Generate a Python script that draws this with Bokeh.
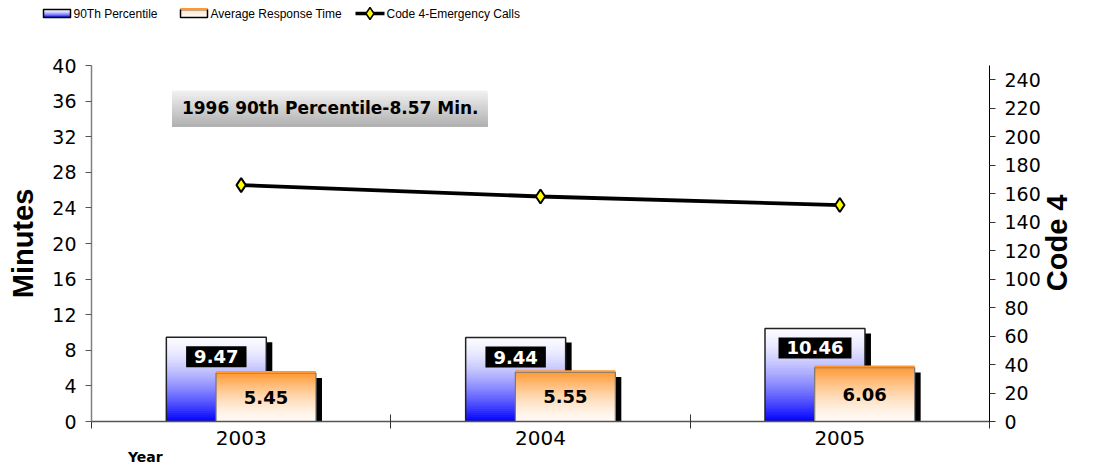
import math
import numpy as np
from bokeh.plotting import figure
from bokeh.layouts import column
from bokeh.models import (Range1d, LinearAxis, FixedTicker, Label, CustomJSTickFormatter)
from bokeh.core.properties import value
from bokeh.embed import file_html
from bokeh.resources import INLINE

# ---------------- data ----------------
years = ["2003", "2004", "2005"]
pct90 = [9.47, 9.44, 10.46]
avg_resp = [5.45, 5.55, 6.06]
code4 = [166, 158, 152]
left_ticks = list(range(0, 41, 4))
right_ticks = list(range(0, 241, 20))
series_names = ["90Th Percentile", "Average Response Time", "Code 4-Emergency Calls"]
note_text = "1996 90th Percentile-8.57 Min."
x_title = "Year"
left_title = "Minutes"
right_title = "Code 4"

# ---------------- style ----------------
W = 1093
LEG_H = 24
MAIN_H = 467 - LEG_H
N_SLICES = 40
BAR_W = 0.334
BLUE_SHIFT = -0.083
ORANGE_SHIFT = 0.083
SH_DX, SH_DY = 0.02, 0.56
LABEL_DROP = 2.2
NUM_FONT = "DejaVu Sans"
LEG_FONT = "Liberation Sans"
R_MAX = 250
R_TITLE_SHIFT = 33.5   # rotated title starts at its tick; shift so it is centred


def hexc(r, g, b):
    return "#%02x%02x%02x" % (int(round(r)), int(round(g)), int(round(b)))


def blue_col(t):  # t: 0 at top, 1 at bottom
    w = t ** 1.6
    return hexc(250 * (1 - w), 250 * (1 - w), 255)


def orange_col(t):
    s = (1 - t) ** 1.5
    return hexc(255, 250 - s * 97, 245 - s * 194)


def gray_col(t):
    g = 242 - 66 * t
    return hexc(g, g, g)


# ================= legend strip =================
lg = figure(width=W, height=LEG_H, output_backend="svg", toolbar_location=None,
            x_range=Range1d(0, W), y_range=Range1d(LEG_H, 0),
            x_axis_type=None, y_axis_type=None, min_border=0)
lg.frame_align = False
lg.outline_line_color = None
LEG_X = [43, 180, 355]
LEG_SW = 27
LEG_Y = 13
SW_T, SW_B = 9, 17
ns = 8
for k in range(ns):
    t = k / ns
    yk = SW_T + (SW_B - SW_T) * t
    lg.quad(left=[LEG_X[0]], right=[LEG_X[0] + LEG_SW], top=[yk], bottom=[SW_B],
            fill_color=blue_col((k + 0.5) / ns), line_color=None)
    lg.quad(left=[LEG_X[1]], right=[LEG_X[1] + LEG_SW], top=[yk], bottom=[SW_B],
            fill_color=orange_col(0.55 + 0.45 * (k + 0.5) / ns), line_color=None)
lg.quad(left=[LEG_X[0]], right=[LEG_X[0] + LEG_SW], top=[SW_T], bottom=[SW_B],
        fill_color=None, line_color="black", line_width=1.5)
lg.quad(left=[LEG_X[1]], right=[LEG_X[1] + LEG_SW], top=[SW_T], bottom=[SW_B],
        fill_color=None, line_color="black", line_width=1.5)
lg.segment(x0=[LEG_X[1]], x1=[LEG_X[1] + LEG_SW], y0=[SW_T - 0.5], y1=[SW_T - 0.5],
           line_color="#ff9933", line_width=2)
lg.segment(x0=[LEG_X[2]], x1=[LEG_X[2] + LEG_SW + 2], y0=[LEG_Y], y1=[LEG_Y],
           line_color="black", line_width=3.5)
lg.scatter(x=[LEG_X[2] + LEG_SW / 2 + 1], y=[LEG_Y], marker="diamond", size=12,
           fill_color="#ffff00", line_color="black", line_width=1.5)
lg.text(x=[LEG_X[0] + LEG_SW + 3, LEG_X[1] + LEG_SW + 3, LEG_X[2] + LEG_SW + 4],
        y=[LEG_Y] * 3, text=series_names, text_font=value(LEG_FONT), text_font_size="12px",
        text_baseline="middle", text_align="left", text_color="black")

# ================= main chart =================
p = figure(width=W, height=MAIN_H, output_backend="svg", toolbar_location=None,
           x_range=Range1d(0, 3), y_range=Range1d(0, 40),
           min_border_left=91, min_border_right=104, min_border_top=41, min_border_bottom=46)
p.frame_align = False
p.outline_line_color = None
p.xgrid.visible = False
p.ygrid.visible = False
p.extra_y_ranges = {"code4": Range1d(0, R_MAX)}

centers = np.arange(len(years)) + 0.5


def gradient_bars(cx, vals, shift, colfn):
    # each slice runs from its own top down to zero; drawn top-first so no seams
    L, R, B, T, C = [], [], [], [], []
    for k in range(N_SLICES):
        t0 = k / N_SLICES
        for c, v in zip(cx, vals):
            L.append(c + shift - BAR_W / 2)
            R.append(c + shift + BAR_W / 2)
            T.append(v * (1 - t0))
            B.append(0)
            C.append(colfn((k + 0.5) / N_SLICES))
    p.quad(left=L, right=R, top=T, bottom=B, fill_color=C, line_color=None)


# blue bars: shadow, gradient, outline
p.quad(left=centers + BLUE_SHIFT - BAR_W / 2 + SH_DX, right=centers + BLUE_SHIFT + BAR_W / 2 + SH_DX,
       top=np.array(pct90) - SH_DY, bottom=-5, fill_color="black", line_color=None)
gradient_bars(centers, pct90, BLUE_SHIFT, blue_col)
p.quad(left=centers + BLUE_SHIFT - BAR_W / 2, right=centers + BLUE_SHIFT + BAR_W / 2,
       top=pct90, bottom=0, fill_color=None, line_color="#222222", line_width=1.5)

# orange bars
p.quad(left=centers + ORANGE_SHIFT - BAR_W / 2 + SH_DX, right=centers + ORANGE_SHIFT + BAR_W / 2 + SH_DX,
       top=np.array(avg_resp) - SH_DY, bottom=-5, fill_color="black", line_color=None)
gradient_bars(centers, avg_resp, ORANGE_SHIFT, orange_col)
p.quad(left=centers + ORANGE_SHIFT - BAR_W / 2, right=centers + ORANGE_SHIFT + BAR_W / 2,
       top=avg_resp, bottom=0, fill_color=None, line_color="#777777", line_width=1.2)
p.quad(left=centers + ORANGE_SHIFT - BAR_W / 2, right=centers + ORANGE_SHIFT + BAR_W / 2,
       top=np.array(avg_resp) + 0.22, bottom=avg_resp, fill_color="#ff9933", line_color=None)

# value labels
blue_txt = [f"{v:.2f}" for v in pct90]
box_w = [18 * (0.696 * sum(ch.isdigit() for ch in s) + 0.38) + 16 for s in blue_txt]
p.rect(x=centers + BLUE_SHIFT, y=np.array(pct90) - LABEL_DROP, width=box_w, height=21,
       width_units="screen", height_units="screen", fill_color="black", line_color=None)
p.text(x=centers + BLUE_SHIFT, y=np.array(pct90) - LABEL_DROP, text=blue_txt,
       text_color="white", text_font=value(NUM_FONT), text_font_style="bold",
       text_font_size="18px", text_align="center", text_baseline="middle")
p.text(x=centers + ORANGE_SHIFT, y=np.array(avg_resp) / 2, text=[f"{v:.2f}" for v in avg_resp],
       text_color="black", text_font=value(NUM_FONT), text_font_style="bold",
       text_font_size="18px", text_align="center", text_baseline="middle")

# line on secondary axis
p.line(x=centers, y=code4, y_range_name="code4", line_color="black", line_width=3.8)
p.scatter(x=centers, y=code4, y_range_name="code4", marker="diamond", size=14,
          fill_color="#ffff00", line_color="black", line_width=2)

# note box (gradient)
TB = (0.27, 1.323, 33.15, 37.2)
nb = 30
for k in range(nb):
    top = TB[3] - (TB[3] - TB[2]) * k / nb
    p.quad(left=[TB[0]], right=[TB[1]], top=[top], bottom=[TB[2]],
           fill_color=gray_col((k + 0.5) / nb), line_color=None)
p.add_layout(Label(x=0.302, y=(TB[2] + TB[3]) / 2, text=note_text, text_baseline="middle",
                   text_font=NUM_FONT, text_font_style="bold", text_font_size="17px",
                   text_color="black"))

# axes
xa = p.xaxis[0]
xa.ticker = FixedTicker(ticks=list(centers), minor_ticks=list(range(len(years) + 1)))
xa.formatter = CustomJSTickFormatter(args=dict(labels=years),
                                     code="return labels[Math.floor(tick)] || '';")
xa.major_tick_in = 0
xa.major_tick_out = 0
xa.minor_tick_in = 7
xa.minor_tick_out = 7
xa.minor_tick_line_color = "#333333"
xa.axis_line_color = "#555555"
xa.axis_line_width = 1.5
xa.major_label_text_font = NUM_FONT
xa.major_label_text_font_size = "20px"
xa.major_label_text_color = "black"
xa.major_label_standoff = 2

YEAR_X = 0.18
xa2 = LinearAxis(ticker=FixedTicker(ticks=[YEAR_X]),
                 formatter=CustomJSTickFormatter(args=dict(t=x_title), code="return t;"))
xa2.axis_line_color = None
xa2.major_tick_in = 0
xa2.major_tick_out = 0
xa2.minor_tick_in = 0
xa2.minor_tick_out = 0
xa2.major_label_standoff = 1
xa2.major_label_text_font = NUM_FONT
xa2.major_label_text_font_style = "bold"
xa2.major_label_text_font_size = "14px"
xa2.major_label_text_color = "black"
p.add_layout(xa2, "below")

ya = p.yaxis[0]
ya.ticker = FixedTicker(ticks=left_ticks)
ya.major_tick_in = 0
ya.major_tick_out = 6
ya.minor_tick_in = 0
ya.minor_tick_out = 0
ya.axis_line_color = "#808080"
ya.axis_line_width = 1.5
ya.major_tick_line_color = "#555555"
ya.major_label_text_font = NUM_FONT
ya.major_label_text_font_size = "19px"
ya.major_label_text_color = "black"
ya.major_label_standoff = 9
ya.axis_label = left_title
ya.axis_label_text_font = "Liberation Sans"
ya.axis_label_text_font_style = "bold"
ya.axis_label_text_font_size = "29px"
ya.axis_label_text_color = "black"
ya.axis_label_standoff = 10

ra = LinearAxis(y_range_name="code4", ticker=FixedTicker(ticks=right_ticks))
ra.major_tick_in = 0
ra.major_tick_out = 6
ra.minor_tick_in = 0
ra.minor_tick_out = 0
ra.axis_line_color = "black"
ra.major_tick_line_color = "#333333"
ra.major_label_text_font = NUM_FONT
ra.major_label_text_font_size = "19px"
ra.major_label_text_color = "black"
ra.major_label_standoff = 9
p.add_layout(ra, "right")

# right-side title, reading bottom-to-top, as the single label of an outer axis
ra2 = LinearAxis(y_range_name="code4", ticker=FixedTicker(ticks=[R_MAX / 2 - R_TITLE_SHIFT]),
                 formatter=CustomJSTickFormatter(args=dict(t=right_title), code="return t;"))
ra2.axis_line_color = None
ra2.major_tick_in = 0
ra2.major_tick_out = 0
ra2.minor_tick_in = 0
ra2.minor_tick_out = 0
ra2.major_label_standoff = 14
ra2.major_label_orientation = math.pi / 2
ra2.major_label_text_font = "Liberation Sans"
ra2.major_label_text_font_style = "bold"
ra2.major_label_text_font_size = "29px"
ra2.major_label_text_color = "black"
p.add_layout(ra2, "right")

layout = column(lg, p, spacing=0)
open("out.html", "w").write(file_html(layout, INLINE))
